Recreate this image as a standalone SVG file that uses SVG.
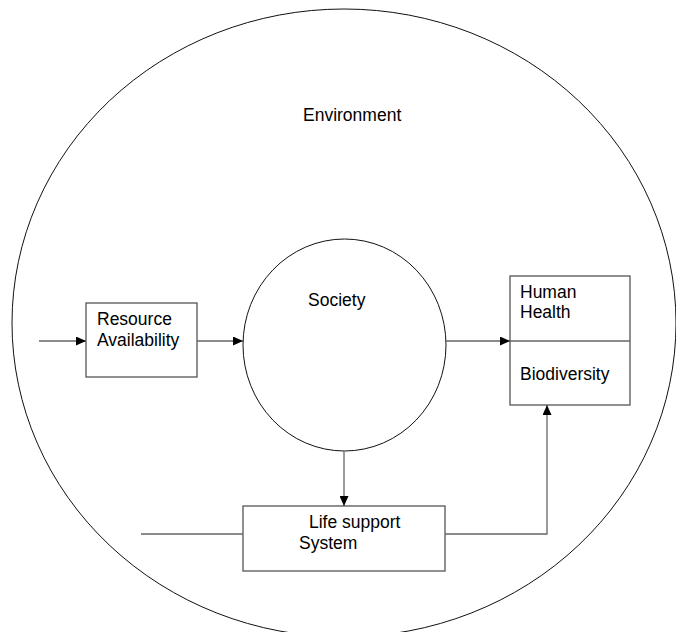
<svg xmlns="http://www.w3.org/2000/svg" width="676" height="632" viewBox="0 0 676 632">
<style>
text{font-family:"Liberation Sans",Arial,sans-serif;font-size:17.5px;fill:#000}
.box{fill:#fff;stroke:#555;stroke-width:1.3}
.ell{fill:none;stroke:#111;stroke-width:1}
.con{fill:none;stroke:#666;stroke-width:1.3}
</style>
<defs>
<marker id="ah" viewBox="0 0 10 9" refX="10" refY="4.5" markerWidth="10" markerHeight="9" markerUnits="userSpaceOnUse" orient="auto">
<path d="M0,0 L10,4.5 L0,9 Z" fill="#000"/>
</marker>
</defs>
<rect width="676" height="632" fill="#fff"/>
<g id="environment">
<ellipse class="ell" cx="344" cy="323" rx="332" ry="314"/>
<text x="303" y="121">Environment</text>
</g>
<g id="society">
<ellipse class="ell" cx="344.5" cy="345" rx="101.5" ry="106"/>
<text x="308" y="306">Society</text>
</g>
<g id="resource">
<rect class="box" x="86" y="303" width="111" height="74"/>
<text x="97" y="325">Resource</text>
<text x="97" y="346">Availability</text>
</g>
<g id="health">
<rect class="box" x="510" y="276" width="120" height="129"/>
<line class="con" x1="510" y1="341" x2="630" y2="341"/>
<text x="520" y="298">Human</text>
<text x="520" y="318">Health</text>
<text x="520" y="380">Biodiversity</text>
</g>
<g id="lifesupport">
<rect class="box" x="243" y="506" width="202" height="65"/>
<text x="309" y="528">Life support</text>
<text x="299" y="549">System</text>
</g>
<g id="connectors">
<line class="con" x1="39" y1="341" x2="86" y2="341" marker-end="url(#ah)"/>
<line class="con" x1="197" y1="341" x2="243" y2="341" marker-end="url(#ah)"/>
<line class="con" x1="446" y1="341" x2="510" y2="341" marker-end="url(#ah)"/>
<line class="con" x1="344" y1="451" x2="344" y2="506" marker-end="url(#ah)"/>
<line class="con" x1="141" y1="534" x2="243" y2="534"/>
<polyline class="con" points="445,534 547,534 547,405" marker-end="url(#ah)"/>
</g>
</svg>
